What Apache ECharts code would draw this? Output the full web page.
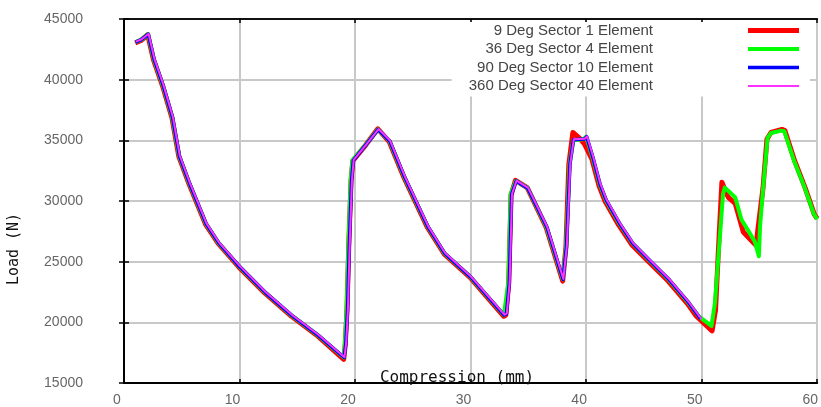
<!DOCTYPE html>
<html>
<head>
<meta charset="utf-8">
<script src="https://cdn.jsdelivr.net/npm/echarts@6/dist/echarts.min.js"></script>
<style>
  html, body { margin: 0; padding: 0; background: #fff; }
  #chart { width: 821px; height: 407px; }
</style>
</head>
<body>
<div id="chart"></div>
<script>
// Load–compression curves for the four sector models: [compression (mm), load (N)]
const seriesNames = [
  '9 Deg Sector 1 Element',
  '36 Deg Sector 4 Element',
  '90 Deg Sector 10 Element',
  '360 Deg Sector 40 Element'
];

const sector9 = [
  [0.97, 43020], [1.47, 43230], [2.05, 43700], [2.55, 41650], [3.35, 39450], [4.15, 36850], [4.75, 33650],
  [5.65, 31350], [7.05, 28100], [8.15, 26500], [9.95, 24550], [12.2, 22400], [14.5, 20500], [16.8, 18850],
  [19.02, 16950], [19.15, 18150], [19.3, 21000], [19.45, 26200], [19.65, 31650], [19.8, 33300],
  [20.95, 34650], [21.97, 35950], [22.95, 34900], [24.25, 31900], [26.25, 27850], [27.7, 25650],
  [29.95, 23700], [32.87, 20500], [33.05, 20600], [33.3, 23200], [33.5, 30500], [33.88, 31700],
  [34.9, 31100], [36.55, 27800], [37.97, 23400], [38.25, 26200], [38.5, 33000], [38.85, 35650],
  [39.0, 35550], [39.4, 35200], [39.85, 34700], [40.5, 33450], [41.1, 31300], [41.65, 29950],
  [42.8, 28050], [43.95, 26400], [45.35, 25050], [47.1, 23400], [48.8, 21500], [49.5, 20550],
  [50.9, 19300], [51.2, 21000], [51.45, 26000], [51.75, 31550], [52.3, 30300], [52.9, 29800],
  [53.6, 27450], [54.3, 26750], [54.7, 26350], [55.0, 28700], [55.3, 31000], [55.65, 35100],
  [56.0, 35650], [56.95, 35900], [57.2, 35800], [58.05, 33300], [58.95, 31100], [59.75, 28900],
  [60.0, 28550]
];

const sector36 = [
  [1.0, 43100], [1.5, 43300], [2.08, 43750], [2.58, 41700], [3.38, 39500], [4.18, 36900], [4.78, 33700],
  [5.68, 31400], [7.08, 28150], [8.18, 26550], [9.98, 24600], [12.23, 22450], [14.53, 20550], [16.83, 18900],
  [19.03, 17100], [19.12, 18300], [19.27, 21100], [19.42, 26300], [19.62, 31700], [19.77, 33350],
  [20.97, 34700], [21.98, 35900], [22.98, 34950], [24.28, 31950], [26.28, 27900], [27.73, 25700],
  [29.98, 23750], [32.88, 20600], [33.02, 20700], [33.27, 23300], [33.47, 30600], [33.92, 31650],
  [34.92, 31100], [36.57, 27850], [37.98, 23550], [38.27, 26250], [38.57, 33050], [38.9, 35000],
  [39.8, 35100], [40.0, 35300], [40.57, 33550], [41.17, 31400], [41.72, 30050], [42.87, 28150],
  [44.02, 26500], [45.42, 25150], [47.17, 23500], [48.87, 21600], [49.8, 20450],
  [50.85, 19700], [51.15, 21600], [51.45, 25450], [51.85, 30600], [52.0, 31100], [52.3, 30850],
  [52.9, 30300], [53.45, 28450], [54.0, 27600], [54.6, 26650], [54.95, 25450], [55.05, 27900],
  [55.3, 30850], [55.7, 35200], [56.0, 35600], [56.9, 35800], [57.15, 35750], [58.0, 33300],
  [58.9, 31150], [59.7, 28950], [60.0, 28500]
];

const sector90 = [
  [1.0, 43100], [1.5, 43300], [2.1, 43750], [2.6, 41700], [3.4, 39500], [4.2, 36900], [4.8, 33700],
  [5.7, 31400], [7.1, 28150], [8.2, 26550], [10.0, 24600], [12.25, 22450], [14.55, 20550], [16.85, 18900],
  [19.05, 17100], [19.2, 18250], [19.35, 21050], [19.5, 26250], [19.7, 31700], [19.85, 33350],
  [21.0, 34700], [22.0, 35900], [23.0, 34950], [24.3, 31950], [26.3, 27900], [27.75, 25700],
  [30.0, 23750], [32.9, 20600], [33.1, 20700], [33.35, 23250], [33.55, 30550], [33.95, 31650],
  [34.95, 31050], [36.6, 27850], [38.0, 23550], [38.3, 26250], [38.6, 33050], [38.9, 35050],
  [39.85, 35100], [40.05, 35300], [40.6, 33550], [41.2, 31400], [41.75, 30050], [42.9, 28150],
  [44.05, 26500], [45.45, 25150], [47.2, 23500], [48.9, 21600], [49.9, 20300]
];

const sector360 = [
  [1.03, 43130], [1.53, 43330], [2.13, 43780], [2.63, 41730], [3.43, 39530], [4.23, 36930], [4.83, 33730],
  [5.73, 31430], [7.13, 28180], [8.23, 26580], [10.03, 24630], [12.28, 22480], [14.58, 20580], [16.88, 18930],
  [19.08, 17130], [19.23, 18280], [19.38, 21080], [19.53, 26280], [19.73, 31730], [19.88, 33380],
  [21.03, 34730], [22.03, 35930], [23.03, 34980], [24.33, 31980], [26.33, 27930], [27.78, 25730],
  [30.03, 23780], [32.93, 20630], [33.13, 20730], [33.38, 23280], [33.58, 30580], [33.98, 31680],
  [34.98, 31080], [36.63, 27880], [38.03, 23580], [38.33, 26280], [38.63, 33080], [38.93, 35080],
  [39.88, 35130], [40.08, 35330], [40.63, 33580], [41.23, 31430], [41.78, 30080], [42.93, 28180],
  [44.08, 26530], [45.48, 25180], [47.23, 23530], [48.93, 21630], [50.0, 20250]
];

const xTicks = { min: 0, max: 60, step: 10 };
const yTicks = { min: 15000, max: 45000, step: 5000 };

const colors = ['#ff0000', '#00ff00', '#0000ff', '#ff33ff'];
const widths = [5, 4, 3.5, 2];
const curves = [sector9, sector36, sector90, sector360];

const chart = echarts.init(document.getElementById('chart'), null, { renderer: 'canvas' });

const axisFont = { color: '#666', fontSize: 14, fontFamily: 'Liberation Sans, Arial, sans-serif' };
const plainNumber = v => String(v);

chart.setOption({
  animation: false,
  backgroundColor: '#fff',
  grid: { left: 124, right: -2, top: 19, bottom: 19, containLabel: false },
  legend: {
    orient: 'vertical',
    align: 'right',
    right: 11,
    top: 22,
    padding: [1, 11, 3, 17],
    backgroundColor: '#fff',
    itemWidth: 51,
    itemHeight: 14,
    itemGap: 3.5,
    selectedMode: false,
    itemStyle: { borderWidth: 0 },
    textStyle: {
      color: '#444',
      fontSize: 15,
      fontFamily: 'Liberation Sans, Arial, sans-serif',
      lineHeight: 14,
      padding: [0, 90, 0, 0]
    },
    data: seriesNames.map((name, i) => ({
      name,
      icon: 'path://M0,0H51V' + widths[i] + 'H0Z'
    }))
  },
  xAxis: [
    {
      type: 'value', position: 'bottom',
      min: xTicks.min, max: xTicks.max, interval: xTicks.step,
      axisLine: { show: true, lineStyle: { color: '#000', width: 2 } },
      axisTick: { show: true, inside: true, length: 4, lineStyle: { color: '#000', width: 1.5 } },
      splitLine: { show: true, lineStyle: { color: '#c8c8c8', width: 2 } },
      axisLabel: Object.assign({ margin: 10, padding: [0, 14, 0, 0], formatter: plainNumber }, axisFont)
    },
    {
      type: 'value', position: 'top',
      min: xTicks.min, max: xTicks.max, interval: xTicks.step,
      axisLine: { show: true, lineStyle: { color: '#111', width: 2 } },
      axisTick: { show: true, inside: true, length: 4, lineStyle: { color: '#000', width: 1.5 } },
      splitLine: { show: false },
      axisLabel: { show: false }
    }
  ],
  yAxis: [
    {
      type: 'value', position: 'left',
      min: yTicks.min, max: yTicks.max, interval: yTicks.step,
      axisLine: { show: true, lineStyle: { color: '#000', width: 2 } },
      axisTick: { show: true, inside: true, length: 5, lineStyle: { color: '#000', width: 1.5 } },
      splitLine: { show: true, lineStyle: { color: '#c8c8c8', width: 2 } },
      axisLabel: Object.assign({ margin: 41, padding: [4, 0, 0, 0], formatter: plainNumber }, axisFont)
    },
    {
      type: 'value', position: 'right',
      min: yTicks.min, max: yTicks.max, interval: yTicks.step,
      axisLine: { show: true, lineStyle: { color: '#000', width: 2 } },
      axisTick: { show: true, inside: true, length: 5, lineStyle: { color: '#000', width: 1.5 } },
      splitLine: { show: false },
      axisLabel: { show: false }
    }
  ],
  graphic: [
    {
      type: 'text', x: 457, y: 378, z: 100,
      style: {
        text: 'Compression (mm)', fill: '#111',
        font: '16px "DejaVu Sans Mono", monospace',
        align: 'center', verticalAlign: 'middle'
      }
    },
    {
      type: 'text', x: 14, y: 249, rotation: Math.PI / 2, z: 100,
      style: {
        text: 'Load (N)', fill: '#111',
        font: '15px "DejaVu Sans Mono", monospace',
        align: 'center', verticalAlign: 'middle'
      }
    }
  ],
  series: curves.map((data, i) => ({
    name: seriesNames[i],
    type: 'line',
    data,
    xAxisIndex: 0,
    yAxisIndex: 0,
    symbol: 'none',
    smooth: false,
    color: colors[i],
    lineStyle: { color: colors[i], width: widths[i], join: 'round' },
    z: 2 + i
  }))
});
</script>
</body>
</html>
